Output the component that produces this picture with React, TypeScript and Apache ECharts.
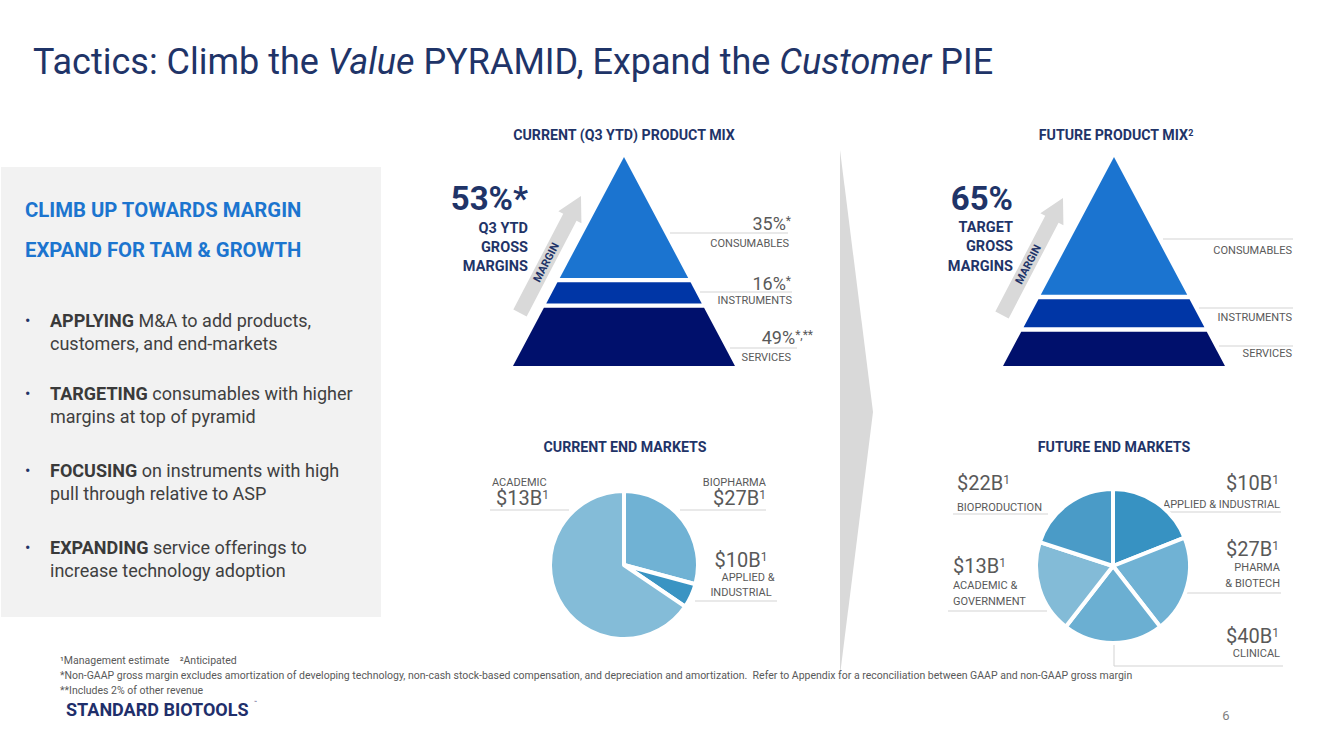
import React, { useEffect, useRef } from "react";
import * as echarts from "echarts";

// ---------- data ----------
const pyramidLayers = ["SERVICES", "INSTRUMENTS", "CONSUMABLES"];
const pyramidColors = ["#00106C", "#0036A6", "#1B74D0"];
// cumulative share of pyramid height (bottom -> top)
const currentMixBounds = [0, 28.9, 41.1, 100];
const futureMixBounds = [0, 17.5, 33, 100];
const currentMixValues = ["49%", "16%", "35%"];
const currentMixNotes = ["*,**", "*", "*"];

const currentMarkets = ["BIOPHARMA", "APPLIED & INDUSTRIAL", "ACADEMIC"];
const currentMarketShares = [29.2, 5.3, 65.5];
const currentMarketTam = ["$27B", "$10B", "$13B"];
const currentMarketColors = ["#70B2D4", "#3A94C3", "#84BCD8"];

const futureMarkets = ["APPLIED & INDUSTRIAL", "PHARMA & BIOTECH", "CLINICAL", "ACADEMIC & GOVERNMENT", "BIOPRODUCTION"];
const futureMarketShares = [19, 20.5, 21, 19.5, 20];
const futureMarketTam = ["$10B", "$27B", "$40B", "$13B", "$22B"];
const futureMarketColors = ["#3792C2", "#70B2D4", "#6BAFD2", "#83BBD7", "#4A9BC7"];

const bullets = [
  ["APPLYING", " M&A to add products,", "customers, and end-markets"],
  ["TARGETING", " consumables with higher", "margins at top of pyramid"],
  ["FOCUSING", " on instruments with high", "pull through relative to ASP"],
  ["EXPANDING", " service offerings to", "increase technology adoption"],
];

const footnotes = [
  "\u00B9Management estimate    \u00B2Anticipated",
  "*Non-GAAP gross margin excludes amortization of developing technology, non-cash stock-based compensation, and depreciation and amortization.  Refer to Appendix for a reconciliation between GAAP and non-GAAP gross margin",
  "**Includes 2% of other revenue",
];

// ---------- styling helpers ----------
const FF = "Roboto, 'Noto Sans', sans-serif";
const NAVY = "#1F3468";
const GRAY = "#595959";
const RULE = "#D3D3D3";

function txt(x: number, y: number, text: string, size: number, fill: string, opts: any = {}) {
  return {
    type: "text",
    x,
    y,
    silent: true,
    style: {
      text,
      fill,
      fontSize: size,
      fontFamily: FF,
      fontWeight: opts.weight || "normal",
      fontStyle: opts.style || "normal",
      align: opts.align || "left",
      verticalAlign: "middle",
      rich: opts.rich,
    },
  };
}

function rule(x1: number, x2: number, y: number) {
  return { type: "line", silent: true, shape: { x1, y1: y, x2, y2: y }, style: { stroke: RULE, lineWidth: 1 } };
}

const moneyRich = {
  m: { fontSize: 20, lineHeight: 18, fontFamily: FF, fill: GRAY, color: GRAY },
  s: { fontSize: 12, lineHeight: 18, fontFamily: FF, fill: GRAY, color: GRAY, verticalAlign: "top" },
};
function money(x: number, y: number, v: string, align = "left") {
  return txt(x, y, `{m|${v}}{s|1}`, 20, GRAY, { align, rich: moneyRich });
}

const pctRich = {
  p: { fontSize: 18, lineHeight: 17, fontFamily: FF, fill: GRAY, color: GRAY },
  s: { fontSize: 12, lineHeight: 17, fontFamily: FF, fill: GRAY, color: GRAY, verticalAlign: "top" },
};

function arrow(x: number, y: number) {
  const L = 132;
  return {
    type: "group",
    x,
    y,
    rotation: (62.5 * Math.PI) / 180,
    silent: true,
    children: [
      {
        type: "polygon",
        shape: { points: [[0, -7.5], [L - 24, -7.5], [L - 24, -13], [L, 0], [L - 24, 13], [L - 24, 7.5], [0, 7.5]] },
        style: { fill: "#D9D9D9" },
      },
      {
        type: "text",
        x: 57,
        y: 0,
        style: { text: "MARGIN", fill: NAVY, fontSize: 11, fontWeight: "bold", fontFamily: FF, align: "center", verticalAlign: "middle" },
      },
    ],
  };
}

function pyramidRender(params: any, api: any) {
  const lo = api.value(0);
  const hi = api.value(1);
  const apex = api.coord([0, 100]);
  const bl = api.coord([-1, 0]);
  const br = api.coord([1, 0]);
  const baseY = bl[1];
  const apexY = apex[1];
  const cx = apex[0];
  const half = (br[0] - bl[0]) / 2;
  const gap = 2.2;
  let y0 = api.coord([0, lo])[1];
  let y1 = api.coord([0, hi])[1];
  if (lo > 0) y0 -= gap;
  if (hi < 100) y1 += gap;
  const hw = (y: number) => ((y - apexY) / (baseY - apexY)) * half;
  return {
    type: "polygon",
    shape: { points: [[cx - hw(y0), y0], [cx + hw(y0), y0], [cx + hw(y1), y1], [cx - hw(y1), y1]] },
    style: { fill: pyramidColors[params.dataIndex] },
  };
}

const toLayers = (b: number[]) => b.slice(0, -1).map((v, i) => ({ name: pyramidLayers[i], value: [v, b[i + 1]] }));

export default function App() {
  const ref = useRef<HTMLDivElement>(null);
  useEffect(() => {
    if (!ref.current) return;
    const chart = echarts.init(ref.current, null, { renderer: "svg" });

    const titleRich = {
      n: { fontSize: 36, fontFamily: FF, fill: NAVY, color: NAVY },
      i: { fontSize: 36, fontFamily: FF, fill: NAVY, color: NAVY, fontStyle: "italic" },
    };
    const bodyRich = {
      b: { fontSize: 18, fontFamily: FF, fontWeight: "bold", fill: "#3A3A3A", color: "#3A3A3A" },
      r: { fontSize: 18, fontFamily: FF, fill: "#404040", color: "#404040" },
    };

    const graphics: any[] = [
      // title
      txt(33, 62, "{n|Tactics: Climb the }{i|Value}{n| PYRAMID, Expand the }{i|Customer}{n| PIE}", 36, NAVY, { rich: titleRich }),
      // left panel
      { type: "rect", silent: true, shape: { x: 1, y: 167, width: 380, height: 450 }, style: { fill: "#F2F2F2" } },
      txt(25, 210, "CLIMB UP TOWARDS MARGIN", 20.3, "#1C75CF", { weight: "bold" }),
      txt(25, 250, "EXPAND FOR TAM & GROWTH", 20.3, "#1C75CF", { weight: "bold" }),
      // chevron divider
      { type: "polygon", silent: true, shape: { points: [[840, 150], [873, 412], [840, 675]] }, style: { fill: "#D9D9D9" } },
      // arrows
      arrow(520, 313),
      arrow(1002, 315),
      // section titles
      txt(624, 135, "CURRENT (Q3 YTD) PRODUCT MIX", 14.2, NAVY, { weight: "bold", align: "center" }),
      txt(1116, 135, "FUTURE PRODUCT MIX{s|2}", 14.2, NAVY, {
        weight: "bold",
        align: "center",
        rich: { s: { fontSize: 9, fontWeight: "bold", fontFamily: FF, fill: NAVY, color: NAVY, verticalAlign: "top" } },
      }),
      txt(625, 447, "CURRENT END MARKETS", 14.2, NAVY, { weight: "bold", align: "center" }),
      txt(1114, 447, "FUTURE END MARKETS", 14.2, NAVY, { weight: "bold", align: "center" }),
      // margins text
      txt(528, 198, "53%*", 33, NAVY, { weight: "bold", align: "right" }),
      txt(528, 228, "Q3 YTD", 14.5, NAVY, { weight: "bold", align: "right" }),
      txt(528, 247, "GROSS", 14.5, NAVY, { weight: "bold", align: "right" }),
      txt(528, 266, "MARGINS", 14.5, NAVY, { weight: "bold", align: "right" }),
      txt(1013, 198, "65%", 33, NAVY, { weight: "bold", align: "right" }),
      txt(1013, 227, "TARGET", 14.5, NAVY, { weight: "bold", align: "right" }),
      txt(1013, 246, "GROSS", 14.5, NAVY, { weight: "bold", align: "right" }),
      txt(1013, 266, "MARGINS", 14.5, NAVY, { weight: "bold", align: "right" }),
      // current pyramid labels
      txt(791, 223, `{p|${currentMixValues[2]}}{s|${currentMixNotes[2]}}`, 18, GRAY, { align: "right", rich: pctRich }),
      rule(670, 788, 233),
      txt(789, 243, pyramidLayers[2], 11, GRAY, { align: "right" }),
      txt(791, 283, `{p|${currentMixValues[1]}}{s|${currentMixNotes[1]}}`, 18, GRAY, { align: "right", rich: pctRich }),
      rule(700, 792, 292),
      txt(792, 300, pyramidLayers[1], 11, GRAY, { align: "right" }),
      txt(813, 337, `{p|${currentMixValues[0]}}{s|${currentMixNotes[0]}}`, 18, GRAY, { align: "right", rich: pctRich }),
      rule(730, 797, 348),
      txt(791, 357, pyramidLayers[0], 11, GRAY, { align: "right" }),
      // future pyramid labels
      rule(1163, 1293, 239),
      txt(1292, 250, pyramidLayers[2], 11, GRAY, { align: "right" }),
      rule(1199, 1293, 308),
      txt(1292, 317, pyramidLayers[1], 11, GRAY, { align: "right" }),
      rule(1219, 1293, 346),
      txt(1292, 353, pyramidLayers[0], 11, GRAY, { align: "right" }),
      // current pie labels
      txt(492, 482, currentMarkets[2], 11, GRAY),
      money(496, 498, currentMarketTam[2]),
      rule(490, 569, 510),
      txt(766, 482, currentMarkets[0], 11, GRAY, { align: "right" }),
      money(766, 498, currentMarketTam[0], "right"),
      rule(680, 766, 510),
      money(741, 560, currentMarketTam[1], "center"),
      txt(748, 577, "APPLIED &", 11, GRAY, { align: "center" }),
      txt(741, 592, "INDUSTRIAL", 11, GRAY, { align: "center" }),
      rule(695, 777, 601),
      // future pie labels
      money(957, 483, futureMarketTam[4]),
      txt(957, 507, futureMarkets[4], 11, GRAY),
      rule(953, 1048, 514),
      money(1279, 483, futureMarketTam[0], "right"),
      txt(1280, 504, futureMarkets[0], 11, GRAY, { align: "right" }),
      rule(1168, 1281, 512),
      money(1279, 549, futureMarketTam[1], "right"),
      txt(1280, 567, "PHARMA", 11, GRAY, { align: "right" }),
      txt(1280, 583, "& BIOTECH", 11, GRAY, { align: "right" }),
      rule(1185, 1281, 593),
      money(953, 566, futureMarketTam[3]),
      txt(953, 585, "ACADEMIC &", 11, GRAY),
      txt(953, 601, "GOVERNMENT", 11, GRAY),
      rule(948, 1047, 611),
      money(1279, 636, futureMarketTam[2], "right"),
      txt(1280, 653, futureMarkets[2], 11, GRAY, { align: "right" }),
      {
        type: "polyline",
        silent: true,
        shape: { points: [[1114, 643], [1114, 666], [1283, 666]] },
        style: { stroke: RULE, lineWidth: 1, fill: null },
      },
      // footnotes
      txt(60, 660, footnotes[0], 10.5, "#595959"),
      txt(60, 675, footnotes[1], 10.5, "#595959"),
      txt(60, 690, footnotes[2], 10.5, "#595959"),
      // logo
      txt(66, 709, "STANDARD BIOTOOLS", 18, "#1F2F6B", { weight: "bold" }),
      txt(254, 702, "\u2122", 5, "#1F2F6B"),
      // page number
      txt(1226, 715, "6", 13, "#7F7F7F", { align: "center" }),
    ];

    // bullets
    const bulletY = [320, 393, 470, 547];
    bullets.forEach((b, i) => {
      const y = bulletY[i];
      graphics.push(txt(25, y, "\u2022", 16, NAVY));
      graphics.push(txt(50, y, `{b|${b[0]}}{r|${b[1]}}`, 18, "#404040", { rich: bodyRich }));
      graphics.push(txt(50, y + 23, b[2], 18, "#404040"));
    });

    chart.setOption({
      animation: false,
      backgroundColor: "#FFFFFF",
      grid: [
        { left: 513, top: 157, width: 222, height: 209 },
        { left: 1003, top: 157, width: 222, height: 209 },
      ],
      xAxis: [
        { type: "value", gridIndex: 0, min: -1, max: 1, show: false },
        { type: "value", gridIndex: 1, min: -1, max: 1, show: false },
      ],
      yAxis: [
        { type: "value", gridIndex: 0, min: 0, max: 100, show: false },
        { type: "value", gridIndex: 1, min: 0, max: 100, show: false },
      ],
      series: [
        {
          type: "custom",
          name: "Current product mix",
          xAxisIndex: 0,
          yAxisIndex: 0,
          renderItem: pyramidRender,
          data: toLayers(currentMixBounds),
          silent: true,
        },
        {
          type: "custom",
          name: "Future product mix",
          xAxisIndex: 1,
          yAxisIndex: 1,
          renderItem: pyramidRender,
          data: toLayers(futureMixBounds),
          silent: true,
        },
        {
          type: "pie",
          name: "Current end markets",
          center: [624, 565],
          radius: [0, 74],
          startAngle: 90,
          clockwise: true,
          label: { show: false },
          labelLine: { show: false },
          silent: true,
          itemStyle: { borderColor: "#FFFFFF", borderWidth: 4 },
          data: currentMarkets.map((n, i) => ({ name: n, value: currentMarketShares[i], itemStyle: { color: currentMarketColors[i] } })),
        },
        {
          type: "pie",
          name: "Future end markets",
          center: [1113, 566],
          radius: [0, 77],
          startAngle: 90,
          clockwise: true,
          label: { show: false },
          labelLine: { show: false },
          silent: true,
          itemStyle: { borderColor: "#FFFFFF", borderWidth: 4 },
          data: futureMarkets.map((n, i) => ({ name: n, value: futureMarketShares[i], itemStyle: { color: futureMarketColors[i] } })),
        },
      ],
      graphic: { elements: graphics },
    });

    return () => chart.dispose();
  }, []);

  return (
    <div
      ref={ref}
      style={{ position: "fixed", left: 0, top: 0, width: 1333, height: 749, background: "#FFFFFF" }}
    />
  );
}
